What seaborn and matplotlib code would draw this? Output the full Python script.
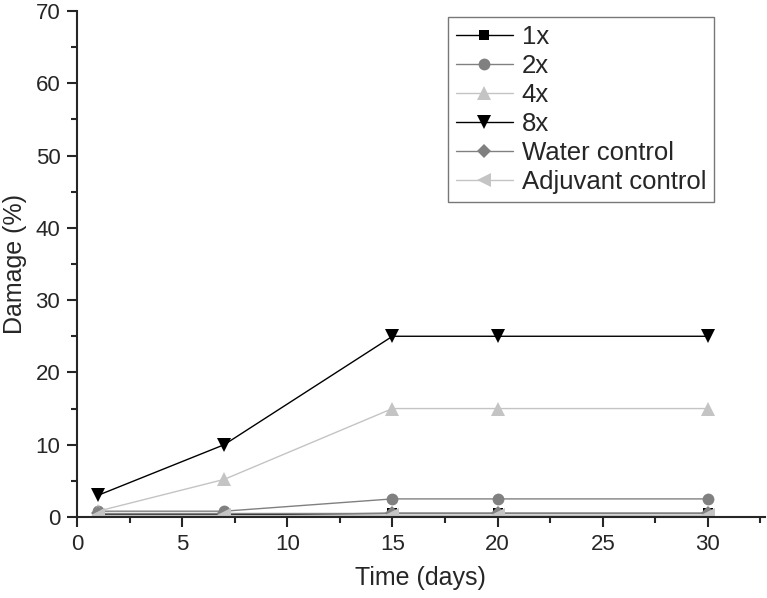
import numpy as np
import pandas as pd
import matplotlib.pyplot as plt
import seaborn as sns
from matplotlib.ticker import MultipleLocator

# dados
dias = [1, 7, 15, 20, 30]
dose_1x = [0.3, 0.3, 0.5, 0.5, 0.5]
dose_2x = [0.8, 0.8, 2.5, 2.5, 2.5]
dose_4x = [0.8, 5.2, 15, 15, 15]
dose_8x = [3, 10, 25, 25, 25]
controle_agua = [0.5, 0.5, 0.5, 0.5, 0.5]
controle_adjuvante = [0.3, 0.3, 0.3, 0.3, 0.3]

series = ['1x', '2x', '4x', '8x', 'Water control', 'Adjuvant control']
valores = [dose_1x, dose_2x, dose_4x, dose_8x, controle_agua, controle_adjuvante]

cores = {'1x': '#000000', '2x': '#808080', '4x': '#c4c4c4', '8x': '#000000',
         'Water control': '#808080', 'Adjuvant control': '#c4c4c4'}
marcadores = {'1x': 's', '2x': 'o', '4x': '^', '8x': 'v',
              'Water control': 'D', 'Adjuvant control': '<'}
tamanhos = {'1x': 7, '2x': 8.5, '4x': 9.5, '8x': 10,
            'Water control': 7, 'Adjuvant control': 9.5}

df = pd.DataFrame({
    'dia': dias * len(series),
    'dano': [v for vals in valores for v in vals],
    'serie': [s for s in series for _ in dias],
})

sns.set_style('ticks')
plt.rcParams['font.family'] = ['Liberation Sans', 'DejaVu Sans']

fig = plt.figure(figsize=(7.67, 5.98), dpi=100)
ax = fig.add_axes([0.1004, 0.1355, 0.8966, 0.8461])

for s in series:
    sub = df[df['serie'] == s]
    sns.lineplot(data=sub, x='dia', y='dano', ax=ax, color=cores[s],
                 marker=marcadores[s], markersize=tamanhos[s],
                 markeredgewidth=0, linewidth=1.0, label=s)

leg = ax.legend(loc='upper left', bbox_to_anchor=(0.540, 0.988), fontsize=18.5,
                frameon=True, fancybox=False, edgecolor='#555555',
                handlelength=2.2, borderpad=0.3, labelspacing=0.2,
                handletextpad=0.35, borderaxespad=0)
leg.get_frame().set_linewidth(1.0)

ax.set_xlim(0, 32.7)
ax.set_ylim(0, 70)
ax.xaxis.set_major_locator(MultipleLocator(5))
ax.xaxis.set_minor_locator(MultipleLocator(2.5))
ax.yaxis.set_major_locator(MultipleLocator(10))
ax.yaxis.set_minor_locator(MultipleLocator(5))
ax.tick_params(which='major', direction='out', length=7, width=1.5, labelsize=16, pad=5)
ax.tick_params(which='minor', direction='out', length=4, width=1.5)
for lado in ['left', 'bottom']:
    ax.spines[lado].set_linewidth(1.5)
sns.despine(ax=ax)

ax.set_xlabel('Time (days)', fontsize=18, labelpad=8)
ax.set_ylabel('Damage (%)', fontsize=18, labelpad=6)

fig.savefig('out.png', dpi=100)
